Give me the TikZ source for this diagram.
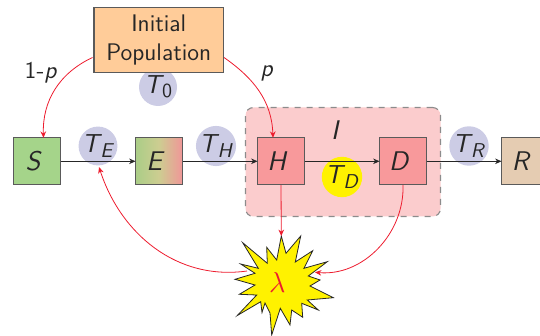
\documentclass[tikz,border=0pt]{standalone}
\usetikzlibrary{arrows.meta}
\definecolor{tcirc}{RGB}{204,204,229}
\definecolor{sgreen}{RGB}{165,212,138}
\definecolor{hred}{RGB}{248,153,155}
\definecolor{iback}{RGB}{251,204,205}
\definecolor{rtan}{RGB}{229,204,178}
\definecolor{popor}{RGB}{255,204,153}
\definecolor{edgegray}{RGB}{90,90,90}
\definecolor{arrred}{RGB}{237,28,46}
\definecolor{burst}{RGB}{255,242,0}
\definecolor{eleft}{RGB}{170,205,135}
\definecolor{emid}{RGB}{205,205,145}
\definecolor{eright}{RGB}{240,150,152}
\newcommand{\vv}[1]{{\fontsize{13.5}{14}\selectfont\textsl{#1}}\kern0.3em}
\newcommand{\Tsub}[1]{{\fontsize{13}{14}\selectfont\textsl{T}}\kern-0.08em\raisebox{-0.4ex}{\fontsize{10}{11}\selectfont #1}}
\tikzset{
  x=0.5pt,y=-0.5pt,
  every node/.style={font=\sffamily\fontsize{12}{14.5}\selectfont,text=black!85},
  box/.style={draw=edgegray,line width=0.55pt,minimum width=23.5pt,minimum height=23.5pt,inner sep=0pt,outer sep=0pt},
  tc/.style={circle,fill=tcirc,minimum size=19pt,inner sep=0pt},
  flow/.style={draw=black!85,line width=0.4pt,-{Stealth[length=3.2pt,width=2.8pt]}},
  redflow/.style={draw=arrred,line width=0.4pt,-{Stealth[length=3.2pt,width=2.8pt]}},
}
\begin{document}
\begin{tikzpicture}
\useasboundingbox (0,0) rectangle (540,336);
% group I
\node[draw=black!45,dashed,fill=iback,rounded corners=4pt,line width=0.55pt,minimum width=97.5pt,minimum height=54.5pt,inner sep=0pt] (grp) at (343,162) {};
\node (I) at (339,130) {\vv{I}};
% circles (behind the flows)
\node[tc] (t0) at (158,87) {\Tsub{0}};
\node[tc] (te) at (98,146) {\Tsub{\textsl{E}}};
\node[tc] (th) at (216,146) {\Tsub{\textsl{H}}};
\node[tc,fill=burst] (td) at (342,177) {\Tsub{\textsl{D}}};
\node[tc] (tr) at (469,146) {\Tsub{\textsl{R}}};
% boxes
\node[box,minimum width=64.7pt,minimum height=32.7pt,fill=popor,align=center] (pop) at (158.7,40) {Initial\\Population};
\node[box,fill=sgreen] (s) at (37.3,161.3) {\vv{S}};
\node[box,left color=eleft,right color=eright,middle color=emid] (e) at (159,161.3) {\vv{E}};
\node[box,fill=hred] (h) at (281,161.3) {\vv{H}};
\node[box,fill=hred] (d) at (403,161.3) {\vv{D}};
\node[box,fill=rtan] (r) at (525,161.3) {\vv{R}};
% flows
\draw[flow] (s) -- (e);
\draw[flow] (e) -- (h);
\draw[flow] (h) -- (d);
\draw[flow] (d) -- (r);
% burst
\coordinate (b0) at (281.3,236);
\filldraw[fill=burst,draw=black!85,line join=miter,line width=0.4pt]
 (b0) -- (286,253.3) -- (300.7,236) -- (295.3,262) -- (312.7,250.7) -- (304,268.3) -- (327.3,261.7) -- (308.3,276)
 -- (320,280) -- (310,286) -- (333.3,297.7) -- (307.3,300) -- (318.3,310) -- (301.7,303.3) -- (302.7,317.3) -- (291.7,310)
 -- (290,325) -- (280.3,308.3) -- (271.7,335) -- (270,313) -- (265,303) -- (262,312.5) -- (260.7,301.7) -- (237.3,315.5) -- (256.7,295) -- (239.3,294.3)
 -- (255,285) -- (235,279.3) -- (255,273.3) -- (240.7,264) -- (258.3,268.3) -- (242.7,242.7) -- (267.3,263.3) -- (266.7,247.3) -- (276.7,260) -- cycle;
\node[text=arrred,inner sep=0pt,font=\fontsize{15}{16}\selectfont] (lam) at (277.3,282) {$\lambda$};
\coordinate (bl) at (247,271);
\coordinate (br) at (315,272.3);
% red
\coordinate (pl) at (92.5,57.5);
\coordinate (pr) at (224,57.5);
\draw[redflow] (pl) to[out=205,in=92] (s.north -| 43.5,0);
\draw[redflow] (pr) to[out=-35,in=92] (h.north -| 273,0);
\draw[redflow] (h.south) -- (b0);
\draw[redflow] (d.south) to[out=-88,in=-5] (br);
\draw[redflow] (bl) to[out=188,in=-72] (99,167);
% labels
\node (q) at (41,73) {1-\textsl{p}};
\node (p2) at (267,73) {\textsl{p}};
\end{tikzpicture}
\end{document}
